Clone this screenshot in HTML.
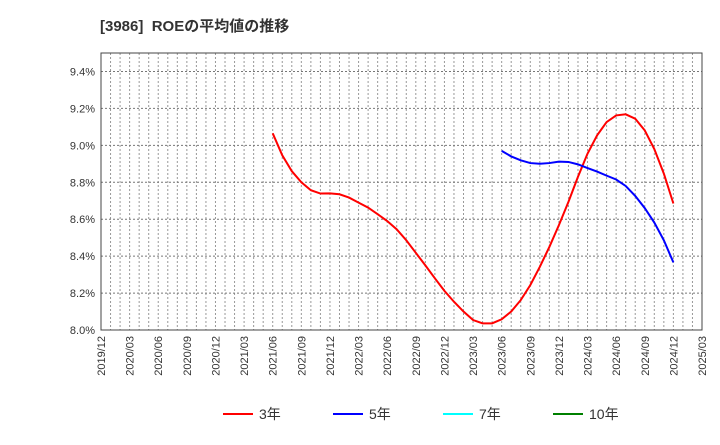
<!DOCTYPE html>
<html><head><meta charset="utf-8"><style>
body{margin:0;background:#fff;font-family:"Liberation Sans","Noto Sans CJK JP",sans-serif}
svg text{font-family:"Liberation Sans","Noto Sans CJK JP",sans-serif}
</style></head><body>
<svg id="chart" width="720" height="440" xmlns="http://www.w3.org/2000/svg">
<text x="100" y="31" font-size="15" font-weight="bold" fill="#333">[3986]&#160; ROEの平均値の推移</text>
<g id="grid"></g><g id="axes"></g><g id="series"></g><g id="legend"></g>
</svg>
<script>
const yTicks=[8.0,8.2,8.4,8.6,8.8,9.0,9.2,9.4];
const xTickLabels=["2019/12","2020/03","2020/06","2020/09","2020/12","2021/03","2021/06","2021/09","2021/12","2022/03","2022/06","2022/09","2022/12","2023/03","2023/06","2023/09","2023/12","2024/03","2024/06","2024/09","2024/12","2025/03"];
const red3Start=18;
const red3=[9.065,8.946,8.86,8.80,8.757,8.739,8.74,8.735,8.717,8.69,8.663,8.627,8.59,8.545,8.486,8.418,8.35,8.28,8.212,8.153,8.10,8.054,8.036,8.036,8.058,8.10,8.162,8.243,8.342,8.45,8.568,8.694,8.83,8.955,9.054,9.126,9.162,9.168,9.144,9.081,8.98,8.847,8.685];
const blue5Start=42;
const blue5=[8.97,8.94,8.919,8.904,8.90,8.904,8.912,8.91,8.897,8.877,8.858,8.836,8.815,8.78,8.726,8.66,8.582,8.486,8.366];
const legendLabels=["3年","5年","7年","10年"];
const legendColors=["#ff0000","#0000ff","#00ffff","#008000"];
const NS="http://www.w3.org/2000/svg";
const L=101,R=702,T=53,B=330,months=63;
const xs=m=>L+(R-L)*m/months;
const ys=v=>B-(v-8.0)/1.5*(B-T);
function mk(tag,attrs,parent){const e=document.createElementNS(NS,tag);for(const k in attrs)e.setAttribute(k,attrs[k]);parent.appendChild(e);return e;}
const grid=document.getElementById('grid'),axes=document.getElementById('axes'),ser=document.getElementById('series'),leg=document.getElementById('legend');
mk('rect',{x:L,y:T,width:R-L,height:B-T,fill:'#fff'},grid);
for(let m=1;m<months;m++){const l=mk('line',{x1:xs(m),x2:xs(m),y1:T,y2:B,stroke:'#999','stroke-width':1,'stroke-dasharray':'2,2'},grid);

}
yTicks.forEach(v=>{if(v>8.0){const l=mk('line',{x1:L,x2:R,y1:ys(v),y2:ys(v),stroke:'#777','stroke-width':1,'stroke-dasharray':'2,2'},grid);

}
const t=mk('text',{x:L-6,y:ys(v)+4,'text-anchor':'end','font-size':11,fill:'#333'},axes);t.textContent=v.toFixed(1)+'%';

});
const fr=mk('rect',{x:L,y:T,width:R-L,height:B-T,fill:'none',stroke:'#444','stroke-width':1},axes);


xTickLabels.forEach((s,i)=>{const x=xs(i*3);const t=mk('text',{x:0,y:0,transform:`translate(${x+4},${B+6}) rotate(-90)`,'text-anchor':'end','font-size':11,fill:'#333'},axes);t.textContent=s;

});
function line(data,start,color,name){const p=mk('polyline',{points:data.map((v,i)=>xs(start+i)+','+ys(v)).join(' '),fill:'none',stroke:color,'stroke-width':2},ser);

}
line(red3,red3Start,'#ff0000','series-3yr');
line(blue5,blue5Start,'#0000ff','series-5yr');
const lx=[223,333,443,553];
legendLabels.forEach((s,i)=>{const g=mk('g',{},leg);


mk('line',{x1:lx[i],x2:lx[i]+30,y1:414,y2:414,stroke:legendColors[i],'stroke-width':2},g);
const t=mk('text',{x:lx[i]+36,y:419,'font-size':14,fill:'#333'},g);t.textContent=s;});
</script>
</body></html>
